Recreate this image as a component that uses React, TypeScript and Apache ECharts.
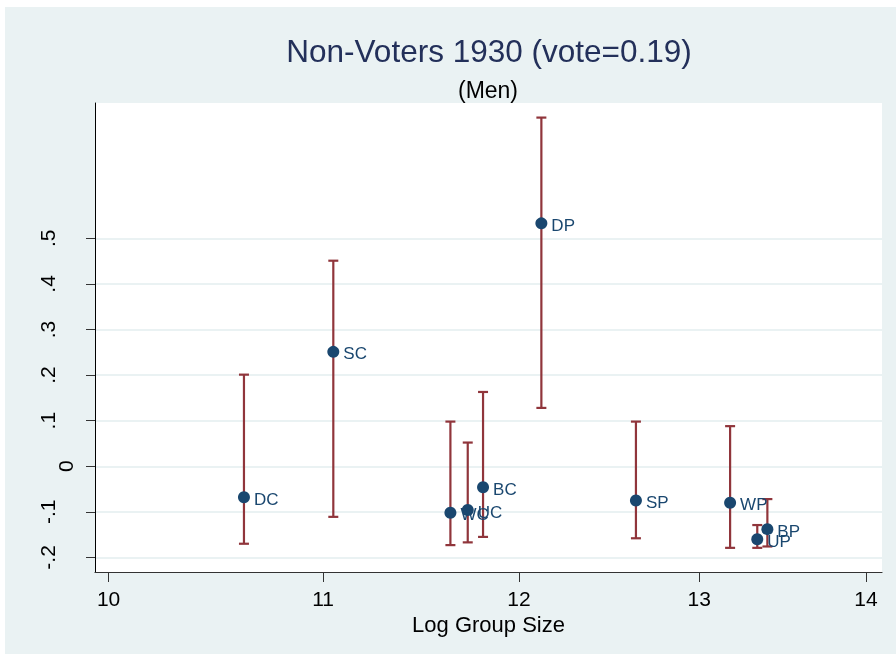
import React, { useEffect, useRef } from "react";
import * as echarts from "echarts";

// Group estimates with confidence intervals, plotted against log group size.
const groups = ["DC", "SC", "WC", "UC", "BC", "DP", "SP", "WP", "BP", "UP"];
const logGroupSize = [10.62, 11.05, 11.64, 11.73, 11.81, 12.12, 12.64, 13.18, 13.4, 13.34];
const estimate = [-0.068, 0.251, -0.102, -0.096, -0.046, 0.533, -0.075, -0.08, -0.138, -0.16];
const ciLow = [-0.17, -0.111, -0.173, -0.167, -0.155, 0.128, -0.158, -0.179, -0.176, -0.179];
const ciHigh = [0.201, 0.451, 0.098, 0.052, 0.163, 0.765, 0.098, 0.088, -0.072, -0.129];

const xTicks = [10, 11, 12, 13, 14];
const yTicks = [-0.2, -0.1, 0, 0.1, 0.2, 0.3, 0.4, 0.5];

const titleText = "Non-Voters 1930 (vote=0.19)";
const subtitleText = "(Men)";
const xAxisTitle = "Log Group Size";

const FONT = "'Liberation Sans', Arial, Helvetica, sans-serif";
const BG = "#EAF2F3";
const NAVY = "#1A476F";
const CRANBERRY = "#90353B";

// The x axis is logarithmic: positions are ln(value), labels show the value.
const toAxis = (v: number) => Math.log(v);

// Stata-style decimals: ".5", "-.2", "0". Zero sits closer to the axis.
const formatY = (v: number) => {
  const r = Math.round(v * 10) / 10;
  if (r === 0) return "{z|0}";
  return "{n|" + r.toFixed(1).replace("0.", ".") + "}";
};

export default function App() {
  const ref = useRef<HTMLDivElement>(null);

  useEffect(() => {
    if (!ref.current) return;
    const chart = echarts.init(ref.current, undefined, { renderer: "svg" });

    const barData = groups.map((g, i) => [toAxis(logGroupSize[i]), ciLow[i], ciHigh[i]]);
    const pointData = groups.map((g, i) => ({
      name: g,
      value: [toAxis(logGroupSize[i]), estimate[i]],
    }));

    chart.setOption({
      animation: false,
      backgroundColor: "transparent",
      graphic: [
        {
          type: "rect",
          z: -10,
          silent: true,
          shape: { x: 5, y: 7, width: 891, height: 647 },
          style: { fill: BG },
        },
        {
          type: "text",
          x: 489,
          y: 51,
          style: {
            text: titleText,
            fill: "#23305A",
            font: `31.5px ${FONT}`,
            textAlign: "center",
            textVerticalAlign: "middle",
          },
        },
        {
          type: "text",
          x: 488,
          y: 90,
          style: {
            text: subtitleText,
            fill: "#000",
            font: `23px ${FONT}`,
            textAlign: "center",
            textVerticalAlign: "middle",
          },
        },
      ],
      grid: {
        left: 95,
        right: 14,
        top: 103,
        bottom: 82,
        show: true,
        backgroundColor: "#fff",
        borderWidth: 0,
        containLabel: false,
      },
      xAxis: {
        type: "value",
        min: toAxis(9.94),
        max: toAxis(14.1),
        name: xAxisTitle,
        nameLocation: "middle",
        nameGap: 35,
        nameTextStyle: { fontSize: 22, color: "#000", fontFamily: FONT },
        axisLine: { show: true, onZero: false, lineStyle: { color: "#333", width: 1.2 } },
        axisTick: {
          show: true,
          length: 10,
          customValues: xTicks.map(toAxis),
          lineStyle: { color: "#333", width: 1 },
        },
        axisLabel: {
          customValues: xTicks.map(toAxis),
          formatter: (v: number) => String(Math.round(Math.exp(v))),
          fontSize: 21,
          color: "#000",
          fontFamily: FONT,
          margin: 16,
        },
        splitLine: { show: false },
      },
      yAxis: {
        type: "value",
        min: -0.232,
        max: 0.797,
        axisLine: { show: true, onZero: false, lineStyle: { color: "#000", width: 1 } },
        axisTick: {
          show: true,
          length: 9,
          customValues: yTicks,
          lineStyle: { color: "#333", width: 1 },
        },
        axisLabel: {
          customValues: yTicks,
          formatter: formatY,
          rotate: 90,
          color: "#000",
          fontFamily: FONT,
          fontSize: 21,
          margin: 19,
          rich: {
            n: { fontSize: 21, fontFamily: FONT, color: "#000", padding: [0, 0, 18, 0] },
            z: { fontSize: 21, fontFamily: FONT, color: "#000" },
          },
        },
        splitLine: { show: true, lineStyle: { color: BG, width: 2 } },
      },
      series: [
        {
          type: "custom",
          z: 2,
          data: barData,
          encode: { x: 0, y: [1, 2] },
          renderItem: (params: any, api: any) => {
            const x = api.value(0);
            const lo = api.coord([x, api.value(1)]);
            const hi = api.coord([x, api.value(2)]);
            const style = { stroke: CRANBERRY, lineWidth: 2.2 };
            return {
              type: "group",
              children: [
                { type: "line", shape: { x1: lo[0], y1: lo[1], x2: hi[0], y2: hi[1] }, style },
                { type: "line", shape: { x1: lo[0] - 5, y1: lo[1], x2: lo[0] + 5, y2: lo[1] }, style },
                { type: "line", shape: { x1: hi[0] - 5, y1: hi[1], x2: hi[0] + 5, y2: hi[1] }, style },
              ],
            };
          },
        },
        {
          type: "scatter",
          z: 3,
          data: pointData,
          symbol: "circle",
          symbolSize: 12,
          itemStyle: { color: NAVY, opacity: 1 },
          label: {
            show: true,
            formatter: "{b}",
            position: "right",
            distance: 4,
            offset: [0, 2],
            color: NAVY,
            fontSize: 17,
            fontFamily: FONT,
          },
        },
      ],
    });

    return () => chart.dispose();
  }, []);

  return (
    <div
      ref={ref}
      style={{ position: "fixed", left: 0, top: 0, width: 896, height: 654 }}
    />
  );
}
